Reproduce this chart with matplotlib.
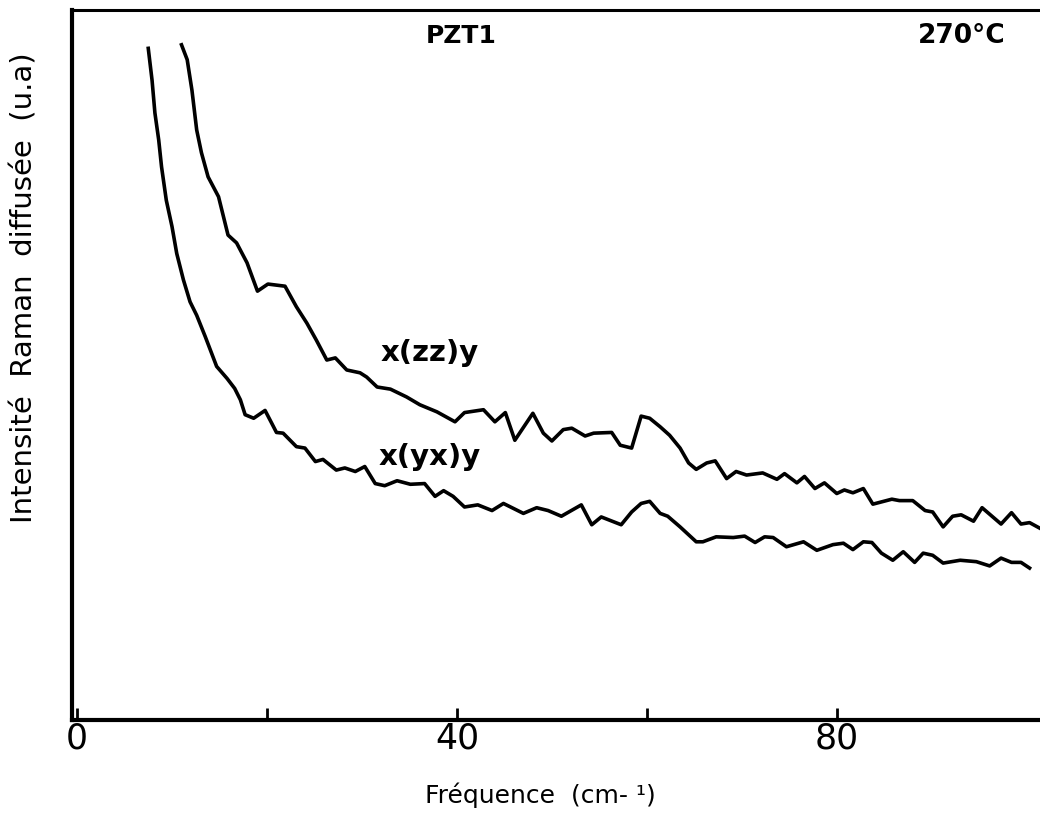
import matplotlib.pyplot as plt

# ------------------------------------------------------------
# Données (fréquence en cm-1, intensité en u.a.)
# ------------------------------------------------------------
freq_zz = [11.0, 11.6, 12.1, 12.6, 13.1, 13.8, 14.9, 15.9, 16.8, 17.9, 19.0, 20.1,
           21.9, 23.1, 24.2, 25.2, 26.3, 27.2, 28.4, 29.8, 30.5, 31.6, 33.0, 34.7,
           36.1, 37.9, 39.8, 40.8, 42.8, 44.0, 45.1, 46.1, 48.0, 49.1, 50.0, 51.2,
           52.1, 53.5, 54.4, 56.3, 57.2, 58.4, 59.4, 60.3, 61.4, 62.4, 63.5, 64.4,
           65.2, 66.3, 67.2, 68.4, 69.4, 70.5, 72.2, 73.7, 74.5, 75.8, 76.6, 77.7,
           78.7, 80.0, 80.8, 81.7, 82.8, 83.8, 85.8, 86.6, 88.0, 89.3, 90.1, 91.2,
           92.2, 93.1, 94.4, 95.3, 97.3, 98.4, 99.4, 100.3, 101.4]
int_zz = [95.1, 93.0, 88.7, 83.1, 79.9, 76.5, 73.7, 68.3, 67.2, 64.4, 60.4, 61.4,
          61.1, 58.2, 55.9, 53.5, 50.7, 51.0, 49.3, 48.9, 48.3, 46.9, 46.6, 45.5,
          44.4, 43.4, 42.0, 43.3, 43.7, 42.0, 43.3, 39.4, 43.2, 40.4, 39.3, 40.9,
          41.1, 40.0, 40.4, 40.5, 38.7, 38.3, 42.8, 42.5, 41.3, 40.1, 38.3, 36.2,
          35.3, 36.2, 36.5, 34.0, 35.0, 34.5, 34.8, 33.9, 34.7, 33.4, 34.3, 32.6,
          33.4, 31.9, 32.4, 32.0, 32.6, 30.4, 31.1, 30.9, 30.9, 29.5, 29.3, 27.2,
          28.7, 28.9, 28.0, 29.9, 27.6, 29.2, 27.6, 27.8, 27.0]

freq_yx = [7.5, 7.9, 8.2, 8.6, 8.9, 9.4, 10.0, 10.5, 11.2, 11.9, 12.6, 13.5,
           14.7, 15.8, 16.6, 17.2, 17.7, 18.6, 19.8, 20.5, 21.0, 21.7, 23.1, 24.0,
           25.1, 25.9, 27.3, 28.2, 29.3, 30.3, 31.4, 32.4, 33.7, 35.1, 36.6, 37.7,
           38.6, 39.6, 40.8, 42.2, 43.7, 44.9, 47.0, 48.4, 49.6, 51.0, 53.1, 54.2,
           55.2, 57.3, 58.4, 59.4, 60.3, 61.4, 62.2, 63.5, 65.2, 65.9, 67.3, 69.1,
           70.3, 71.4, 72.4, 73.3, 74.7, 76.5, 77.9, 79.6, 80.7, 81.7, 82.8, 83.7,
           84.7, 85.9, 87.0, 88.2, 89.1, 90.1, 91.2, 93.0, 94.7, 96.1, 97.3, 98.4,
           99.4, 100.3]
int_yx = [94.6, 90.1, 85.5, 81.7, 77.9, 73.2, 69.5, 65.7, 62.0, 58.9, 57.0, 54.0,
          49.8, 48.1, 46.7, 45.1, 43.0, 42.5, 43.6, 41.8, 40.5, 40.4, 38.5, 38.3,
          36.4, 36.7, 35.2, 35.5, 35.0, 35.7, 33.3, 33.0, 33.7, 33.2, 33.3, 31.5,
          32.3, 31.5, 30.0, 30.3, 29.5, 30.5, 29.1, 29.9, 29.5, 28.7, 30.3, 27.5,
          28.6, 27.5, 29.3, 30.5, 30.8, 29.1, 28.7, 27.2, 25.1, 25.1, 25.8, 25.7,
          25.9, 25.0, 25.8, 25.7, 24.4, 25.1, 23.9, 24.7, 24.9, 24.0, 25.1, 25.0,
          23.5, 22.5, 23.7, 22.2, 23.5, 23.2, 22.1, 22.5, 22.3, 21.7, 22.8, 22.2,
          22.2, 21.4]

tick_pos = [0, 20, 40, 60, 80]
tick_txt = ['0', '', '40', '', '80']

# ------------------------------------------------------------
# Figure
# ------------------------------------------------------------
plt.rcParams['font.family'] = ['DejaVu Sans']

fig = plt.figure(figsize=(10.4, 8.13), dpi=100)
ax = fig.add_axes([72 / 1040, 1 - 720 / 813, 1 - 72 / 1040, (720 - 10) / 813])

ax.plot(freq_zz, int_zz, color='black', lw=2.6, solid_joinstyle='round')
ax.plot(freq_yx, int_yx, color='black', lw=2.6, solid_joinstyle='round')

ax.set_xlim(-0.53, 101.4)
ax.set_ylim(0, 100)

ax.spines['right'].set_visible(False)
ax.spines['left'].set_linewidth(3)
ax.spines['bottom'].set_linewidth(3)
ax.spines['top'].set_linewidth(2.2)

ax.set_xticks(tick_pos)
ax.set_xticklabels(tick_txt, fontsize=25)
ax.tick_params(axis='x', direction='in', length=9, width=2, pad=1)
ax.set_yticks([])

# textes
ax.text(40.5, 96.3, 'PZT1', fontsize=18, fontweight='bold', ha='center', va='center')
ax.text(93.2, 96.3, '270°C', fontsize=19, fontweight='bold', ha='center', va='center')
ax.text(32.0, 51.7, 'x(zz)y', fontsize=21, fontweight='bold', ha='left', va='center')
ax.text(31.8, 37.0, 'x(yx)y', fontsize=21, fontweight='bold', ha='left', va='center')

fig.text(540 / 1040, 1 - 795 / 813, 'Fréquence  (cm- ¹)', fontsize=18,
         ha='center', va='center')
fig.text(25 / 1040, 1 - 288 / 813, 'Intensité  Raman  diffusée  (u.a)', fontsize=21,
         rotation=90, ha='center', va='center')

plt.savefig('out.png', dpi=100)
